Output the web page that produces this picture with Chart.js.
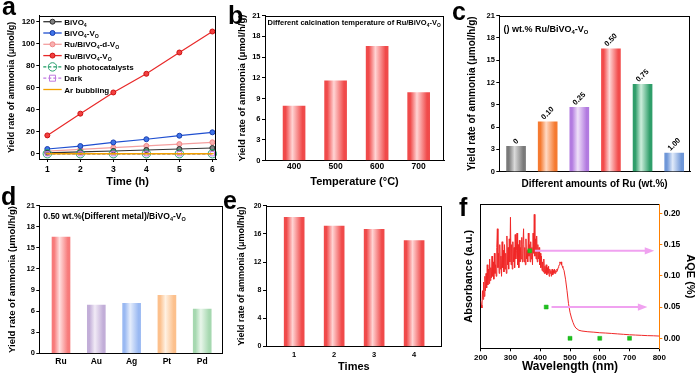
<!DOCTYPE html>
<html><head><meta charset="utf-8">
<script src="https://cdn.jsdelivr.net/npm/chart.js@4.4.1/dist/chart.umd.min.js"></script>
<style>
html,body{margin:0;padding:0;background:#fff;}
#wrap{position:relative;width:700px;height:376px;overflow:hidden;background:#fff;}
canvas{position:absolute;left:0;top:0;width:700px;height:376px;}
</style></head><body><div id="wrap">
<canvas id="ca" width="700" height="376"></canvas>
<canvas id="cb" width="700" height="376"></canvas>
<canvas id="cc" width="700" height="376"></canvas>
<canvas id="cd" width="700" height="376"></canvas>
<canvas id="ce" width="700" height="376"></canvas>
<canvas id="cf" width="700" height="376"></canvas>
</div>
<script>
// ---------- DATA ----------
// Panel a: yield vs time
const timeH = [1, 2, 3, 4, 5, 6];
const yBiVO4 = [0.8, 1.6, 2.5, 3.4, 4.3, 5.2];
const yBiVO4Vo = [4.3, 7.0, 10.3, 13.2, 16.4, 19.5];
const yRuDVo = [2.3, 4.0, 5.6, 7.1, 8.8, 10.4];
const yRuVo = [16.7, 36.5, 55.8, 72.8, 92.2, 111.3];
const yNoCat = [0, 0, 0, 0, 0, 0];
const yDark = [0, 0, 0, 0, 0, 0];
const yAr = [0, 0, 0, 0, 0, 0];
const seriesNamesA = ['BiVO_4', 'BiVO_4-V_O', 'Ru/BiVO_4-d-V_O', 'Ru/BiVO_4-V_O', 'No photocatalysts', 'Dark', 'Ar bubbling'];
const ticksYieldA = [0, 20, 40, 60, 80, 100, 120];
// Panel b: calcination temperature
const calcTemps = [400, 500, 600, 700];
const rateTemp = [7.9, 11.55, 16.55, 9.85];
// Panel c: Ru loading
const ruIndex = [0, 1, 2, 3, 4, 5];
const ruLabels = ['0', '0.10', '0.25', '0.50', '0.75', '1.00'];
const rateRu = [3.4, 6.7, 8.65, 16.55, 11.75, 2.5];
// Panel d: different metals
const metalIndex = [1, 2, 3, 4, 5];
const metals = ['Ru', 'Au', 'Ag', 'Pt', 'Pd'];
const rateMetal = [16.55, 6.85, 7.1, 8.25, 6.3];
// Panel e: cycles
const cycles = [1, 2, 3, 4];
const rateCycle = [18.35, 17.1, 16.65, 15.05];
// Panel f: absorbance spectrum + AQE
const wl = [200,202,204,206,208,210,212,214,216,218,220,222,224,226,228,230,232,234,236,238,
  240,242,244,246,248,250,252,254,256,258,260,262,264,266,268,270,272,274,276,278,
  280,282,284,286,288,290,292,294,296,298,300,302,304,306,308,310,312,314,316,318,
  320,322,324,326,328,330,332,334,336,338,340,342,344,346,348,350,352,354,356,358,
  360,362,364,366,368,370,372,374,376,378,380,382,384,386,388,390,392,394,396,398,
  400,402,404,406,408,410,412,414,416,418,420,422,424,426,428,430,432,434,436,438,
  440,442,444,446,448,450,452,454,456,458,460,462,464,466,468,470,472,474,476,478,
  480,485,490,495,500,505,510,515,520,530,540,560,580,600,620,640,660,680,700,720,740,760,780,800];
const absorb = [0.33,0.30,0.28,0.40,0.34,0.46,0.36,0.50,0.40,0.52,
  0.42,0.58,0.44,0.55,0.45,0.62,0.47,0.56,0.49,0.64,
  0.50,0.60,0.48,0.66,0.52,0.58,0.50,0.70,0.83,0.56,
  0.66,0.52,0.72,0.55,0.64,0.50,0.74,0.56,0.68,0.53,
  0.72,0.55,0.66,0.52,0.78,0.58,0.70,0.55,0.76,0.60,
  0.91,0.58,0.72,0.55,0.74,0.60,0.70,0.56,0.79,0.62,
  0.68,0.80,0.58,0.72,0.56,0.75,0.60,0.70,0.62,0.77,
  0.60,0.72,0.83,0.60,0.70,0.58,0.76,0.62,0.68,0.60,
  0.80,0.64,0.72,0.60,0.74,0.62,0.70,0.58,0.80,0.66,
  0.93,0.64,0.76,0.62,0.78,0.60,0.72,0.62,0.70,0.58,
  0.66,0.56,0.64,0.54,0.60,0.53,0.62,0.52,0.57,0.52,
  0.58,0.51,0.56,0.52,0.57,0.50,0.55,0.52,0.54,0.50,
  0.55,0.51,0.54,0.52,0.55,0.52,0.54,0.53,0.55,0.54,
  0.56,0.57,0.58,0.60,0.59,0.60,0.58,0.57,0.56,0.55,
  0.54,0.48,0.40,0.31,0.25,0.21,0.18,0.155,0.14,0.125,0.12,0.115,0.112,0.108,0.106,0.103,0.10,0.097,0.094,0.092,0.09,0.088,0.087,0.085];
const aqeWl = [365, 420, 500, 600, 700];
const aqe = [0.14, 0.05, 0, 0, 0];
const arrowY = [0.14, 0.05];
const arrowFrom = [382, 438];
const arrowTo = [783, 760];
const ticks21 = [0, 3, 6, 9, 12, 15, 18, 21];
const ticks20 = [0, 4, 8, 12, 16, 20];
const ticksWl = [200, 300, 400, 500, 600, 700, 800];
const ticksAqe = [0, 0.05, 0.10, 0.15, 0.20];

// ---------- HELPERS ----------
const W = 700, H = 376;
const FONT = "'Liberation Sans', Arial, Helvetica, sans-serif";
Chart.defaults.font.family = FONT;
Chart.defaults.font.weight = 'bold';
Chart.defaults.color = '#000';
Chart.defaults.animation = false;
Chart.defaults.plugins.legend.display = false;
Chart.defaults.plugins.tooltip.enabled = false;

const lh = s => s * 1.2;
function box(p) {
  const padL = p.yTitleX - lh(p.yTitleSize) / 2;
  const padB = p.xTitleY != null ? H - p.xTitleY - lh(p.xTitleSize) / 2 : H - p.B - 22;
  let padR = W - p.R, rW = 0;
  if (p.rTitleX != null) { padR = W - p.rTitleX - lh(p.rTitleSize) / 2; rW = W - padR - p.R; }
  return { padding: { left: padL, top: p.T, right: padR, bottom: padB }, yW: p.L - padL, xH: H - padB - p.B, rW };
}
function axis(o) {
  return {
    type: 'linear', position: o.pos, min: o.min, max: o.max, offset: false,
    afterBuildTicks: s => { s.ticks = o.ticks.map(v => ({ value: v })); },
    afterFit: s => { if (o.pos === 'bottom') s.height = o.size; else s.width = o.size; },
    ticks: { display: o.showTicks !== false, autoSkip: false, maxRotation: 0, color: '#000',
      padding: o.pad == null ? 1.5 : o.pad, font: { size: o.tickSize || 8, weight: 'bold', family: FONT },
      callback: o.fmt || (v => String(v)) },
    grid: { display: true, offset: false, drawOnChartArea: false, drawTicks: (o.tickLen || 0) > 0, tickLength: o.tickLen || 0,
      color: o.tickColor || '#000', tickColor: o.tickColor || '#000', tickWidth: 1 },
    border: { display: true, color: o.borderColor || '#000', width: 1 },
    title: { display: !!o.title, text: o.title || '', color: '#000', padding: 0,
      font: { size: o.titleSize || 10, weight: 'bold', family: FONT } }
  };
}
function rich(ctx, str, x, y, size, color) {
  const parts = str.split(/(_.)/).filter(s => s);
  ctx.save(); ctx.fillStyle = color || '#000'; ctx.textBaseline = 'alphabetic'; ctx.textAlign = 'left';
  let cx = x;
  for (const p of parts) {
    if (p[0] === '_' && p.length === 2) {
      ctx.font = `bold ${size * 0.65}px ${FONT}`; ctx.fillText(p[1], cx, y + size * 0.25); cx += ctx.measureText(p[1]).width;
    } else {
      ctx.font = `bold ${size}px ${FONT}`; ctx.fillText(p, cx, y); cx += ctx.measureText(p).width;
    }
  }
  ctx.restore();
}
function barGrad(edges, lights) {
  return (c) => {
    const e = edges[(c.dataIndex || 0) % edges.length];
    if (c.type !== 'data' || !c.parsed) return e;
    const ch = c.chart, xs = ch.scales.x, w = c.dataset.barThickness;
    if (!xs) return e;
    const cx = xs.getPixelForValue(c.parsed.x);
    if (!isFinite(cx) || !isFinite(w)) return e;
    const g = ch.ctx.createLinearGradient(cx - w / 2, 0, cx + w / 2, 0);
    const l = lights[c.dataIndex % lights.length];
    g.addColorStop(0, e); g.addColorStop(0.12, e); g.addColorStop(0.42, l); g.addColorStop(0.88, e); g.addColorStop(1, e);
    return g;
  };
}
function deco(spec) {
  return {
    id: 'deco',
    afterDatasetsDraw(chart) { if (spec.afterData) spec.afterData(chart); },
    afterDraw(chart) {
      const ctx = chart.ctx, a = chart.chartArea;
      ctx.save();
      ctx.strokeStyle = '#000'; ctx.lineWidth = 1; ctx.beginPath();
      const t = Math.round(a.top) + 0.5, r = Math.round(a.right) - 0.5, b = Math.round(a.bottom);
      ctx.moveTo(Math.round(a.left), t); ctx.lineTo(r + 0.5, t);
      if (spec.right !== false) { ctx.moveTo(r, t); ctx.lineTo(r, b); }
      ctx.stroke();
      ctx.fillStyle = '#000'; ctx.textAlign = 'left'; ctx.textBaseline = 'alphabetic';
      ctx.font = `bold 25px ${FONT}`;
      ctx.fillText(spec.letter[0], spec.letter[1], spec.letter[2]);
      if (spec.note) rich(ctx, spec.note[0], spec.note[1], spec.note[2], spec.note[3]);
      if (spec.extra) spec.extra(chart);
      ctx.restore();
    }
  };
}

// ---------- PANEL A ----------
const A = box({ L: 39.3, T: 15.7, R: 216, B: 159, yTitleX: 11.7, yTitleSize: 9, xTitleY: 181.7, xTitleSize: 11 });
const styleA = [
  { line: '#333333', bg: '#808080', bd: '#2a2a2a', ps: 'circle', r: 2.5, dash: [] },
  { line: '#1f4fd0', bg: '#3f74e8', bd: '#1a3fb0', ps: 'circle', r: 2.5, dash: [] },
  { line: '#f4a0a0', bg: '#f8b0b0', bd: '#f08686', ps: 'circle', r: 2.5, dash: [] },
  { line: '#e82828', bg: '#f24040', bd: '#cc1010', ps: 'circle', r: 2.5, dash: [] },
  { line: '#1a9a60', bg: 'rgba(0,0,0,0)', bd: '#2aa070', ps: 'circle', r: 4.2, dash: [3, 2] },
  { line: '#c07ae0', bg: 'rgba(0,0,0,0)', bd: '#c07ae0', ps: 'rect', r: 3, dash: [3, 2] },
  { line: '#f2a000', bg: '#f2a000', bd: '#f2a000', ps: 'line', r: 1.5, dash: [] }
];
const seriesA = [yBiVO4, yBiVO4Vo, yRuDVo, yRuVo, yNoCat, yDark, yAr];
const orderA = [3, 4, 5, 6, 2, 1, 0];
new Chart(document.getElementById('ca'), {
  type: 'line',
  data: { datasets: seriesA.map((s, k) => ({
    data: timeH.map((t, i) => ({ x: t, y: s[i] })),
    borderColor: styleA[k].line, borderWidth: k >= 4 ? 1.3 : 1.2, borderDash: styleA[k].dash,
    pointStyle: styleA[k].ps, pointRadius: styleA[k].r, pointBackgroundColor: styleA[k].bg,
    pointBorderColor: styleA[k].bd, pointBorderWidth: 1, clip: false, order: orderA[k], tension: 0
  })) },
  options: {
    responsive: false, devicePixelRatio: 1, layout: { padding: A.padding },
    scales: {
      x: axis({ pos: 'bottom', min: 0.757, max: 6.11, ticks: timeH, size: A.xH, tickLen: 3, pad: 2.5, tickSize: 8.5, title: 'Time (h)', titleSize: 11 }),
      y: axis({ pos: 'left', min: -4.8, max: 125.7, ticks: ticksYieldA, size: A.yW, tickLen: 3, pad: 1.3, tickSize: 8, title: 'Yield rate of ammonia (μmol/g)', titleSize: 9 })
    }
  },
  plugins: [deco({
    letter: ['a', 2, 15],
    extra(chart) {
      const ctx = chart.ctx;
      seriesNamesA.forEach((name, k) => {
        const y = 21.7 + k * 11.3, st = styleA[k];
        ctx.save();
        ctx.strokeStyle = st.line; ctx.lineWidth = 1.3; ctx.setLineDash(st.dash);
        ctx.beginPath(); ctx.moveTo(43.3, y); ctx.lineTo(61.7, y); ctx.stroke(); ctx.setLineDash([]);
        ctx.fillStyle = st.bg; ctx.strokeStyle = st.bd; ctx.lineWidth = 1;
        ctx.beginPath();
        if (st.ps === 'circle') { ctx.arc(52.5, y, st.r, 0, Math.PI * 2); ctx.fill(); ctx.stroke(); }
        else if (st.ps === 'rect') { ctx.rect(52.5 - st.r, y - st.r, st.r * 2, st.r * 2); ctx.stroke(); }
        ctx.restore();
        rich(ctx, name, 64.3, y + 3, 8);
      });
    }
  })]
});

// ---------- PANEL B ----------
const B = box({ L: 265, T: 15.7, R: 444, B: 160.5, yTitleX: 242.7, yTitleSize: 9.5, xTitleY: 181.7, xTitleSize: 11 });
new Chart(document.getElementById('cb'), {
  type: 'bar',
  data: { datasets: [{ data: calcTemps.map((t, i) => ({ x: t, y: rateTemp[i] })), barThickness: 22, borderWidth: 0,
    backgroundColor: barGrad(['#f04a4a'], ['#ffd4d4']) }] },
  options: {
    responsive: false, devicePixelRatio: 1, layout: { padding: B.padding },
    scales: {
      x: axis({ pos: 'bottom', min: 330, max: 761, ticks: calcTemps, size: B.xH, tickLen: 0, pad: 1.5, tickSize: 8.5, title: 'Temperature (°C)', titleSize: 11 }),
      y: axis({ pos: 'left', min: 0, max: 21, ticks: ticks21, size: B.yW, tickLen: 3, pad: 1.5, tickSize: 7.5, title: 'Yield rate of ammonia (μmol/h/g)', titleSize: 9.5 })
    }
  },
  plugins: [deco({ letter: ['b', 228, 23.5], note: ['Different calcination temperature of Ru/BiVO_4-V_O', 267.5, 25.3, 7.5] })]
});

// ---------- PANEL C ----------
const Cb = box({ L: 499.3, T: 15.7, R: 690, B: 171.7, yTitleX: 472.5, yTitleSize: 10, xTitleY: 184.3, xTitleSize: 10 });
new Chart(document.getElementById('cc'), {
  type: 'bar',
  data: { datasets: [{ data: ruIndex.map((t, i) => ({ x: t, y: rateRu[i] })), barThickness: 19, borderWidth: 0,
    backgroundColor: barGrad(['#7a7a7a', '#f57a30', '#b27be0', '#f24c4c', '#2f9e6a', '#6f97d8'],
                             ['#dadada', '#ffdac4', '#efe0f9', '#ffd6d6', '#cdeedc', '#e0eaf9']) }] },
  options: {
    responsive: false, devicePixelRatio: 1, layout: { padding: Cb.padding },
    scales: {
      x: axis({ pos: 'bottom', min: -0.53, max: 5.5, ticks: ruIndex, size: Cb.xH, tickLen: 0, showTicks: false, title: 'Different amounts of Ru (wt.%)', titleSize: 10 }),
      y: axis({ pos: 'left', min: 0, max: 21, ticks: ticks21, size: Cb.yW, tickLen: 3, pad: 1.5, tickSize: 7.5, title: 'Yield rate of ammonia (μmol/h/g)', titleSize: 10 })
    }
  },
  plugins: [deco({ letter: ['c', 452, 20], note: ['() wt.% Ru/BiVO_4-V_O', 503.5, 31.5, 9],
    afterData(chart) {
      const ctx = chart.ctx, meta = chart.getDatasetMeta(0);
      ctx.save(); ctx.font = `bold 7.5px ${FONT}`; ctx.fillStyle = '#000'; ctx.textAlign = 'center'; ctx.textBaseline = 'middle';
      meta.data.forEach((el, i) => {
        const w = ctx.measureText(ruLabels[i]).width;
        const off = 3.5 + w / 2 * 0.707;
        ctx.save(); ctx.translate(el.x, el.y - off); ctx.rotate(-Math.PI / 4); ctx.fillText(ruLabels[i], 0, 0); ctx.restore();
      });
      ctx.restore();
    } })]
});

// ---------- PANEL D ----------
const D = box({ L: 39.3, T: 205.7, R: 222.7, B: 353.3, yTitleX: 12.7, yTitleSize: 9.5 });
new Chart(document.getElementById('cd'), {
  type: 'bar',
  data: { datasets: [{ data: metalIndex.map((t, i) => ({ x: t, y: rateMetal[i] })), barThickness: 18, borderWidth: 0,
    backgroundColor: barGrad(['#f77a7a', '#c2aed8', '#9ab9f2', '#fcc08c', '#a6d8b0'],
                             ['#ffdede', '#f1eaf6', '#e5edfc', '#fff1e2', '#e8f6ea']) }] },
  options: {
    responsive: false, devicePixelRatio: 1, layout: { padding: D.padding },
    scales: {
      x: axis({ pos: 'bottom', min: 0.385, max: 5.58, ticks: metalIndex, size: D.xH, tickLen: 0, pad: 3, tickSize: 8.5, fmt: v => metals[Math.round(v) - 1] || '' }),
      y: axis({ pos: 'left', min: 0, max: 21, ticks: ticks21, size: D.yW, tickLen: 3, pad: 1.5, tickSize: 7.5, title: 'Yield rate of ammonia (μmol/h/g)', titleSize: 9.5 })
    }
  },
  plugins: [deco({ letter: ['d', 1, 205], note: ['0.50 wt.%(Different metal)/BiVO_4-V_O', 43.3, 219, 8.5] })]
});

// ---------- PANEL E ----------
const E = box({ L: 266, T: 205.7, R: 441.7, B: 346.5, yTitleX: 241.7, yTitleSize: 9, xTitleY: 366.7, xTitleSize: 11 });
new Chart(document.getElementById('ce'), {
  type: 'bar',
  data: { datasets: [{ data: cycles.map((t, i) => ({ x: t, y: rateCycle[i] })), barThickness: 20, borderWidth: 0,
    backgroundColor: barGrad(['#f04a4a'], ['#ffd4d4']) }] },
  options: {
    responsive: false, devicePixelRatio: 1, layout: { padding: E.padding },
    scales: {
      x: axis({ pos: 'bottom', min: 0.295, max: 4.69, ticks: cycles, size: E.xH, tickLen: 0, pad: 3.5, tickSize: 7.5, title: 'Times', titleSize: 11 }),
      y: axis({ pos: 'left', min: 0, max: 20, ticks: ticks20, size: E.yW, tickLen: 3, pad: 1.5, tickSize: 7, title: 'Yield rate of ammonia (μmol/h/g)', titleSize: 9 })
    }
  },
  plugins: [deco({ letter: ['e', 223, 208.5] })]
});

// ---------- PANEL F ----------
const F = box({ L: 480.7, T: 204.3, R: 659.3, B: 348.3, yTitleX: 469.3, yTitleSize: 11, xTitleY: 366.7, xTitleSize: 12, rTitleX: 690, rTitleSize: 11 });
new Chart(document.getElementById('cf'), {
  type: 'line',
  data: { datasets: [
    { data: aqeWl.map((t, i) => ({ x: t, y: aqe[i] })), yAxisID: 'yr', showLine: false, pointStyle: 'rect', pointRadius: 2.8,
      pointBackgroundColor: '#1fc01f', pointBorderColor: '#18b018', pointBorderWidth: 0.5, order: 0, clip: false },
    { data: wl.map((t, i) => ({ x: t, y: absorb[i] })), yAxisID: 'yl', borderColor: '#f02828', borderWidth: 1, pointRadius: 0, order: 1, tension: 0 }
  ] },
  options: {
    responsive: false, devicePixelRatio: 1, layout: { padding: F.padding },
    scales: {
      x: axis({ pos: 'bottom', min: 200, max: 800, ticks: ticksWl, size: F.xH, tickLen: 3, pad: 1.5, tickSize: 8, title: 'Wavelength (nm)', titleSize: 12 }),
      yl: axis({ pos: 'left', min: 0, max: 1, ticks: [], size: F.yW, tickLen: 0, showTicks: false, title: 'Absorbance (a.u.)', titleSize: 11 }),
      yr: axis({ pos: 'right', min: -0.016, max: 0.2144, ticks: ticksAqe, size: F.rW, tickLen: 3, pad: 1.5, tickSize: 8.5,
        borderColor: '#ff8000', tickColor: '#ff8000', fmt: v => v.toFixed(2), title: 'AQE (%)', titleSize: 11 })
    }
  },
  plugins: [deco({ letter: ['f', 459, 216], right: false,
    afterData(chart) {
      const ctx = chart.ctx, xs = chart.scales.x, ys = chart.scales.yr;
      ctx.save(); ctx.strokeStyle = '#f0a2f0'; ctx.fillStyle = '#f0a2f0'; ctx.lineWidth = 2;
      arrowY.forEach((v, i) => {
        const y = ys.getPixelForValue(v), x0 = xs.getPixelForValue(arrowFrom[i]), x1 = xs.getPixelForValue(arrowTo[i]);
        ctx.beginPath(); ctx.moveTo(x0, y); ctx.lineTo(x1 - 8, y); ctx.stroke();
        ctx.beginPath(); ctx.moveTo(x1, y); ctx.lineTo(x1 - 9.5, y - 3.6); ctx.lineTo(x1 - 9.5, y + 3.6); ctx.closePath(); ctx.fill();
      });
      ctx.restore();
    } })]
});
</script>
</body></html>
